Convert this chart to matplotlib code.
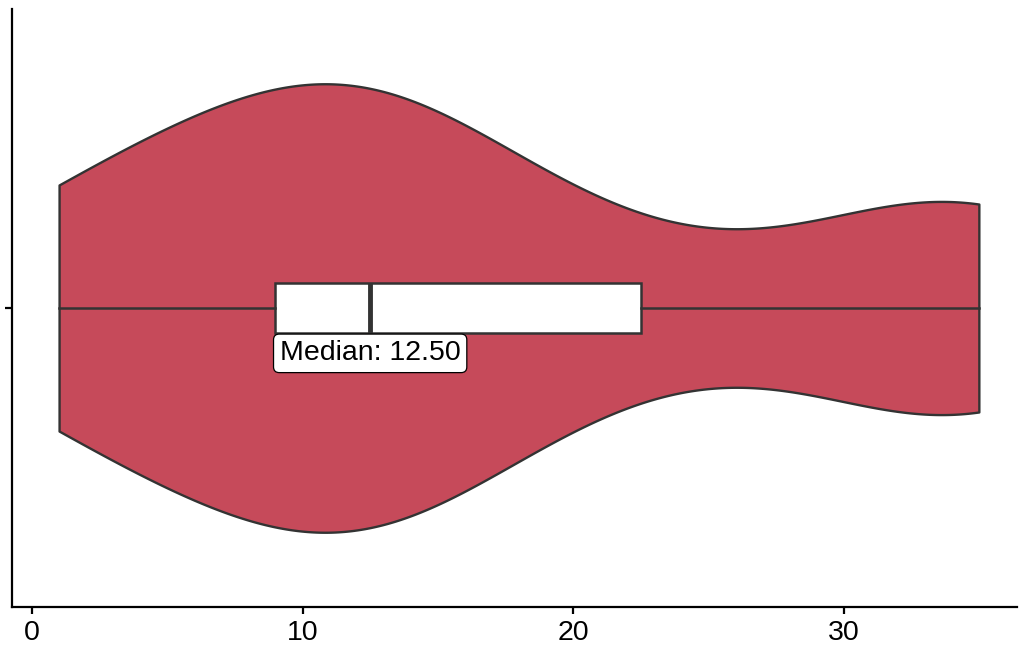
import numpy as np
import matplotlib
matplotlib.use('Agg')
import matplotlib.pyplot as plt

# 관측값
values = [1, 2, 6, 9, 10, 12, 12.5, 14.5, 17, 22.5, 32.5, 35, 35]
x_ticks = [0, 10, 20, 30]

plt.rcParams['font.family'] = ['Liberation Sans', 'DejaVu Sans']

data = np.array(values, dtype=float)
n = len(data)
q1, med, q3 = np.percentile(data, [25, 50, 75])
sd = data.std(ddof=1)
# R의 bw.nrd0 와 같은 대역폭
bw = 0.9 * min(sd, (q3 - q1) / 1.34) * n ** -0.2

fig = plt.figure(figsize=(10.19, 6.48), dpi=100)
ax = fig.add_axes([12 / 1019, 1 - 607 / 648, 1005 / 1019, 598 / 648])

vp = ax.violinplot([data], positions=[1], orientation='horizontal', widths=0.9,
                   showextrema=False, points=512, bw_method=bw / sd)
for body in vp['bodies']:
    body.set_facecolor('#C64A5A')
    body.set_edgecolor('#333333')
    body.set_linewidth(1.7)
    body.set_alpha(1)

ax.boxplot([data], positions=[1], orientation='horizontal', widths=0.1,
           whis=(0, 100), patch_artist=True, showcaps=False, showfliers=False,
           boxprops=dict(facecolor='white', edgecolor='#333333', linewidth=1.8),
           whiskerprops=dict(color='#333333', linewidth=1.8),
           medianprops=dict(color='#333333', linewidth=3.5))

ax.text(med, 0.909, f'Median: {med:.2f}', ha='center', va='center', fontsize=20.5,
        bbox=dict(boxstyle='round,pad=0.22,rounding_size=0.2', facecolor='white',
                  edgecolor='black', linewidth=0.9))

ax.set_xlim(-0.74, 36.41)
ax.set_ylim(0.4, 1.6)
ax.set_xticks(x_ticks)
ax.set_yticks([1])
ax.set_yticklabels([''])
ax.tick_params(axis='both', length=5, width=1.6, color='black', labelsize=20.5, pad=4)
for side in ['top', 'right']:
    ax.spines[side].set_visible(False)
for side in ['left', 'bottom']:
    ax.spines[side].set_linewidth(1.6)
    ax.spines[side].set_color('black')

fig.savefig('out.png', dpi=100)
